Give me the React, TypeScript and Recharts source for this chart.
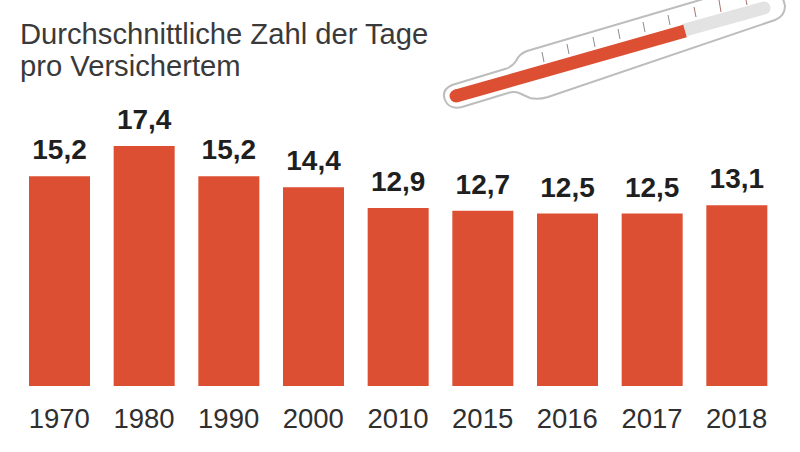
import { BarChart, Bar, XAxis, YAxis, LabelList } from "recharts";

const years = ["1970", "1980", "1990", "2000", "2010", "2015", "2016", "2017", "2018"];
const days = [15.2, 17.4, 15.2, 14.4, 12.9, 12.7, 12.5, 12.5, 13.1];
const titleLines = ["Durchschnittliche Zahl der Tage", "pro Versichertem"];

const chartData = years.map((year, i) => ({ year, days: days[i] }));
const FONT = "'Liberation Sans', Arial, sans-serif";

// decorative thermometer, not data
const tickMarks = [
  [542, 52, 544, 62],
  [567, 44, 569, 54],
  [593, 37, 595, 47],
  [618, 29, 620, 39],
  [643, 22, 645, 32],
  [668, 15, 670, 25],
  [694, 7, 696, 17],
  [719, 0, 721, 12],
  [746, 0, 747, 5],
];

function Thermometer() {
  return (
    <svg
      width={800}
      height={452}
      style={{ position: "absolute", left: 0, top: 0, pointerEvents: "none" }}
    >
      <path
        d="M 452 85 L 505 69 Q 512 67 516 61 Q 519 54 527 51 L 700 0 L 772 -22 Q 782 -8 785 6 Q 785 16 775 20 L 548 97 Q 538 100 530 98 L 519 93 Q 514 91 508 93 L 462 107 Q 449 110 445 100 Q 441 90 452 85 Z"
        fill="#fff"
        stroke="#bdbdbd"
        strokeWidth={2}
      />
      <line x1={685} y1={30} x2={764} y2={8} stroke="#e3e3e3" strokeWidth={13} strokeLinecap="round" />
      {tickMarks.map(([x1, y1, x2, y2], i) => (
        <line key={i} x1={x1} y1={y1} x2={x2} y2={y2} stroke={i > 5 ? "#a8736c" : "#8c8c8c"} strokeWidth={1} />
      ))}
      <path d="M 456 96 L 685 31" stroke="#dc4f33" strokeWidth={13} strokeLinecap="butt" fill="none" />
      <circle cx={456} cy={96} r={6.5} fill="#dc4f33" />
    </svg>
  );
}

export default function App() {
  return (
    <div style={{ position: "absolute", left: 0, top: 0, width: 800, height: 452, background: "#fff", overflow: "hidden" }}>
      <BarChart
        width={800}
        height={452}
        data={chartData}
        margin={{ top: 110, right: 21, left: 17, bottom: 0 }}
      >
        <XAxis
          dataKey="year"
          axisLine={false}
          tickLine={false}
          interval={0}
          tick={{ fill: "#2f2f2f", fontSize: 27.5, fontFamily: FONT }}
          tickMargin={16}
          height={66}
        />
        <YAxis hide domain={[0, 20]} />
        <Bar dataKey="days" fill="#dc4f33" barSize={61} isAnimationActive={false}>
          <LabelList
            dataKey="days"
            position="top"
            offset={17}
            formatter={(v: number) => v.toFixed(1).replace(".", ",")}
            style={{ fill: "#1f1f1f", fontSize: 28, fontWeight: 700, fontFamily: FONT }}
          />
        </Bar>
      </BarChart>
      <Thermometer />
      <div
        style={{
          position: "absolute",
          left: 20,
          top: 18,
          fontFamily: FONT,
          fontSize: 29.2,
          lineHeight: "32px",
          color: "#3a3a3a",
          whiteSpace: "nowrap",
        }}
      >
        {titleLines.map((line) => (
          <div key={line}>{line}</div>
        ))}
      </div>
    </div>
  );
}
